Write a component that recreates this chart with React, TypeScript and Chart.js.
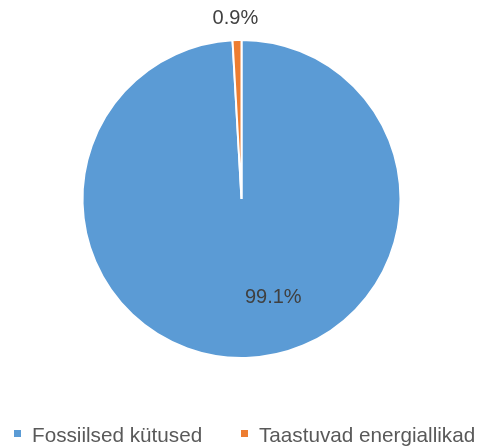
import React, { useEffect, useRef } from "react";
import { Chart, registerables } from "chart.js";

Chart.register(...registerables);

const categories = ["Fossiilsed kütused", "Taastuvad energiallikad"];
const values = [99.1, 0.9];
const valueLabels = ["99.1%", "0.9%"];
const colors = ["#5B9BD5", "#ED7D31"];

const FONT = "'Liberation Sans', Arial, sans-serif";

const labelPlugin = {
  id: "customLabels",
  afterDraw(chart: any) {
    const ctx = chart.ctx;
    const meta = chart.getDatasetMeta(0);
    ctx.save();
    ctx.textAlign = "center";
    ctx.textBaseline = "middle";
    ctx.font = `20px ${FONT}`;
    ctx.fillStyle = "#404040";
    meta.data.forEach((arc: any, i: number) => {
      const { x, y, outerRadius, startAngle, endAngle } = arc.getProps(
        ["x", "y", "outerRadius", "startAngle", "endAngle"],
        true
      );
      const mid = (startAngle + endAngle) / 2;
      let lx: number, ly: number;
      if (i === 0) {
        lx = x + outerRadius * 0.2;
        ly = y + outerRadius * 0.62;
      } else {
        lx = x + Math.cos(mid) * (outerRadius + 22) - 1;
        ly = y + Math.sin(mid) * (outerRadius + 22);
      }
      ctx.fillText(valueLabels[i], lx, ly);
    });
    // legend
    ctx.font = `20.7px ${FONT}`;
    ctx.textAlign = "left";
    ctx.textBaseline = "alphabetic";
    const legendX = [14, 241];
    categories.forEach((c, i) => {
      ctx.fillStyle = colors[i];
      ctx.fillRect(legendX[i], 430, 7, 7);
      ctx.fillStyle = "#595959";
      ctx.fillText(c, legendX[i] + 18, 442);
    });
    ctx.restore();
  },
};

export default function App() {
  const ref = useRef<HTMLCanvasElement>(null);
  useEffect(() => {
    document.body.style.margin = "0";
    const chart = new Chart(ref.current!, {
      type: "pie",
      data: {
        labels: categories,
        datasets: [
          {
            data: values,
            backgroundColor: colors,
            borderColor: "#ffffff",
            borderWidth: 2,
          },
        ],
      },
      options: {
        animation: false,
        responsive: false,
        maintainAspectRatio: false,
        layout: { padding: { top: 39, bottom: 88, left: 0, right: 0 } },
        plugins: {
          legend: { display: false },
          tooltip: { enabled: false },
        },
      },
      plugins: [labelPlugin],
    });
    return () => chart.destroy();
  }, []);
  return (
    <div style={{ position: "absolute", left: 0, top: 0, width: 483, height: 447, background: "#fff" }}>
      <canvas ref={ref} width={483} height={447} style={{ width: 483, height: 447 }} />
    </div>
  );
}
